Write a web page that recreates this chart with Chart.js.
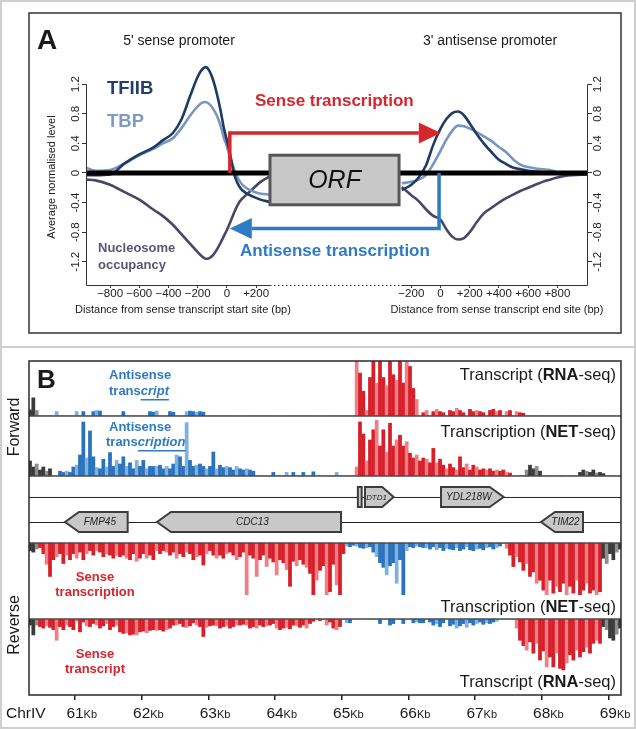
<!DOCTYPE html>
<html>
<head>
<meta charset="utf-8">
<script src="https://cdn.jsdelivr.net/npm/chart.js@4.4.1/dist/chart.umd.min.js"></script>
<style>
  html, body { margin: 0; padding: 0; background: #fff; }
  #page { position: relative; width: 636px; height: 729px; overflow: hidden; background: #fff; }
  #chartA { position: absolute; left: 0; top: 0; }
  #chartB { position: absolute; left: 0; top: 347px; }
  .frame { position: absolute; border: 2px solid #cfcfcf; box-sizing: border-box; pointer-events: none; }
</style>
</head>
<body>
<div id="page">
  <canvas id="chartA" width="636" height="347"></canvas>
  <canvas id="chartB" width="636" height="382"></canvas>
  <div class="frame" style="left:0;top:0;width:636px;height:348px"></div>
  <div class="frame" style="left:0;top:346px;width:636px;height:383px"></div>
</div>
<script>
const FF = '"Liberation Sans", Arial, Helvetica, sans-serif';

// ---------- Panel A : average profiles around the 5' and 3' ends ----------
// the 3' window is drawn to the right of the ORF gap, shifted by OFF bp
const OFF = 1463;

const startBp = [-965, -900, -800, -700, -600, -500, -440, -370, -310, -250, -200, -170, -145,
  -120, -95, -70, -45, -20, 0, 20, 55, 90, 130, 180, 230, 290];
const tfiibStart = [-0.03, -0.03, -0.02, 0.13, 0.25, 0.35, 0.44, 0.54, 0.73, 1.05, 1.3, 1.4, 1.43,
  1.38, 1.26, 1.08, 0.86, 0.6, 0.44, 0.27, -0.05, -0.2, -0.27, -0.32, -0.36, -0.39];
const tbpStart = [0.07, 0.03, 0.04, 0.13, 0.24, 0.33, 0.4, 0.47, 0.61, 0.78, 0.9, 0.95, 0.96,
  0.93, 0.87, 0.78, 0.65, 0.47, 0.36, 0.22, 0.02, -0.12, -0.2, -0.25, -0.28, -0.29];
const nucStart = [-0.09, -0.1, -0.16, -0.26, -0.36, -0.5, -0.58, -0.7, -0.83, -0.96, -1.07, -1.13, -1.16,
  -1.15, -1.11, -1.04, -0.95, -0.85, -0.77, -0.68, -0.51, -0.38, -0.3, -0.21, -0.12, -0.05];

const endBp = [-265, -200, -150, -100, -50, 0, 40, 80, 120, 160, 200, 250, 300, 350, 400, 450, 500,
  550, 600, 650, 700, 750, 800, 850, 900, 1000];
const tfiibEnd = [-0.23, -0.16, -0.06, 0.1, 0.38, 0.6, 0.73, 0.81, 0.83, 0.78, 0.67, 0.52, 0.39, 0.28,
  0.18, 0.12, 0.07, 0.05, 0.03, 0.02, 0.01, 0, -0.01, -0.02, -0.02, -0.02];
const tbpEnd = [-0.14, -0.12, -0.09, -0.03, 0.12, 0.3, 0.45, 0.57, 0.64, 0.63, 0.6, 0.55, 0.49, 0.43,
  0.35, 0.28, 0.18, 0.11, 0.08, 0.06, 0.05, 0.04, 0.01, -0.01, -0.02, -0.02];
const nucEnd = [-0.19, -0.3, -0.38, -0.49, -0.58, -0.63, -0.76, -0.86, -0.9, -0.88, -0.8, -0.66, -0.54,
  -0.47, -0.4, -0.34, -0.29, -0.24, -0.2, -0.16, -0.12, -0.09, -0.06, -0.04, -0.03, -0.02];

const levelTicks = [-1.2, -0.8, -0.4, 0, 0.4, 0.8, 1.2];
const startTicks = [-800, -600, -400, -200, 0, 200];
const endTicks = [-200, 0, 200, 400, 600, 800];

// annotation geometry in data units
const startWindowEnd = 295;          // last bp of the 5' window
const endWindowStart = -268;         // first bp of the 3' window
const orfBox = { from: 295, to: OFF - 284, top: 0.24, bottom: -0.43 };
const senseArrow = { from: 20, to: OFF + 2, level: 0.54 };
const antisenseArrow = { from: OFF - 10, to: 20, level: -0.75 };

// ---------- Panel B : ChrIV 60.3 - 69.2 kb, 50 bp bins ----------
const binStart = 60.3, binStep = 0.05;
const fwdRna = [
  11,33,10,0,0,0,0,0,8,0,
  0,0,0,0,8,0,8,0,0,8,
  10,9,0,0,0,0,0,0,8,0,
  0,0,0,0,0,0,8,7,9,0,
  0,0,8,7,0,0,0,8,9,8,
  7,8,7,0,0,0,0,0,0,0,
  0,0,0,0,0,0,0,0,0,0,
  0,0,0,0,0,0,0,0,0,0,
  0,0,0,0,0,0,0,0,0,0,
  0,0,0,0,0,0,0,0,100,78,
  45,10,70,100,60,100,70,55,100,75,
  65,100,60,100,90,50,30,0,6,10,
  0,8,12,8,6,0,10,8,14,10,
  6,0,12,8,10,8,6,0,10,12,
  8,10,0,8,10,0,8,6,5,0,
  0,0,0,0,0,0,0,0,0,0,
  0,0,0,0,0,0,0,0,0,0,
  0,0,0,0,0,0,0,0];
const fwdNet = [
  25,15,20,10,15,8,12,0,0,8,
  6,8,6,15,18,35,90,30,75,32,
  14,12,28,15,39,16,26,20,32,16,
  22,12,26,16,26,12,16,16,16,18,
  12,16,12,20,35,32,16,89,26,16,
  18,20,16,12,16,40,12,18,14,16,
  14,10,16,12,10,12,10,8,0,0,
  0,0,0,6,0,0,0,6,0,6,
  0,0,6,0,0,7,0,0,0,0,
  0,0,6,0,0,0,0,0,15,90,
  70,25,60,77,93,50,77,40,88,50,
  60,68,50,57,38,30,35,25,30,28,
  22,46,22,28,18,12,20,14,10,32,
  14,20,10,18,15,10,12,10,12,8,
  10,8,10,6,5,0,0,0,0,10,
  18,12,16,8,0,0,0,0,0,0,
  0,0,0,0,0,6,10,8,6,10,
  5,6,4,0,0,0,0,0];
const revNet = [
  10,12,8,6,14,28,44,22,18,14,
  27,16,22,14,20,12,22,14,10,16,
  10,12,18,14,16,20,16,18,16,20,
  22,14,24,20,14,20,16,22,10,14,
  10,12,16,12,20,14,18,12,14,22,
  18,16,29,14,10,16,20,16,20,14,
  12,16,22,18,12,68,16,20,44,22,
  16,31,20,25,42,22,26,35,57,24,
  30,22,28,32,40,68,49,36,30,68,
  64,28,55,68,14,4,5,3,4,6,
  7,6,5,12,18,26,32,42,30,26,
  53,22,68,10,5,6,4,5,6,6,
  8,5,9,6,10,7,8,9,6,10,
  8,5,9,10,8,7,9,6,5,8,
  6,4,0,7,16,31,18,25,36,27,
  44,38,53,49,62,68,49,66,57,64,
  53,68,57,66,49,68,62,53,66,62,
  68,64,20,27,14,22,12,8];
const revRna = [
  8,21,8,10,12,9,11,14,28,10,
  14,8,10,14,3,17,4,9,10,6,
  8,12,9,6,14,10,8,17,19,18,
  21,20,21,17,16,18,15,14,15,14,
  16,14,12,8,8,6,10,11,9,5,
  8,10,23,11,9,8,9,12,10,9,
  12,10,8,8,7,8,12,10,12,8,
  10,9,8,6,12,14,12,11,13,8,
  9,11,8,12,6,3,0,2,0,8,
  4,12,14,10,0,5,5,0,0,0,
  0,0,0,0,0,6,0,0,8,6,
  0,0,6,0,0,5,4,5,5,0,
  4,8,6,10,5,0,9,7,12,9,
  6,11,5,8,6,4,7,5,6,4,
  3,0,0,0,0,0,12,28,35,41,
  30,45,32,54,42,63,50,63,45,65,
  67,58,47,54,41,50,43,37,45,32,
  28,32,10,14,25,28,20,12];

// which class of signal each stretch of a strand belongs to (upper bound in kb)
const forwardRegions = [[60.65, 'gray'], [65.15, 'blue'], [67.75, 'red'], [99, 'gray']];
const reverseRegions = [[60.45, 'gray'], [65.05, 'red'], [67.45, 'blue'], [68.9, 'red'], [99, 'gray']];

const kbTicks = [61, 62, 63, 64, 65, 66, 67, 68, 69];

const geneNames = ['', 'DTD1', 'YDL218W', 'FMP45', 'CDC13', 'TIM22'];
const geneStart = [65.243, 65.35, 66.49, 60.85, 62.23, 67.99];
const geneEnd = [65.30, 65.78, 67.43, 61.79, 64.99, 68.62];
const geneStrand = ['+', '+', '+', '-', '-', '-'];

// ---------- styles ----------
const C = {
  tfiib: '#1e3b64', tbp: '#7995c0', nuc: '#4a4668',
  red: '#d7252e', blue: '#2e7bc4', ink: '#1a1a1a'
};
const barShades = {
  red: ['#d71f29', '#d71f29', '#ef7f87'],
  blue: ['#2a72bc', '#2a72bc', '#82b0df'],
  gray: ['#3a3a3a', '#3a3a3a', '#8d8d8d']
};

function rich(ctx, parts, x, y, align, baseline) {
  ctx.save();
  ctx.textBaseline = baseline || 'middle';
  ctx.textAlign = 'left';
  let total = 0;
  for (const p of parts) { ctx.font = p.font; p.w = ctx.measureText(p.text).width; total += p.w; }
  let cx = align === 'right' ? x - total : align === 'center' ? x - total / 2 : x;
  for (const p of parts) {
    ctx.font = p.font;
    ctx.fillStyle = p.color;
    ctx.fillText(p.text, cx, y);
    if (p.underline) ctx.fillRect(cx, y + p.underline, p.w, 1.5);
    cx += p.w;
  }
  ctx.restore();
}

function fmtBp(v) {
  if (v === 0) return '0';
  return v > 0 ? '+' + v : '\u2212' + Math.abs(v);
}

function pair(xs, ys, shift) {
  return xs.map((v, i) => ({ x: v + shift, y: ys[i] }));
}

function arrowTo(ctx, xs, ys, a, color) {
  const x0 = xs.getPixelForValue(a.from), x1 = xs.getPixelForValue(a.to);
  const y0 = ys.getPixelForValue(0), yl = ys.getPixelForValue(a.level);
  const dir = x1 > x0 ? 1 : -1, head = 22, half = 10.5;
  ctx.save();
  ctx.strokeStyle = color; ctx.fillStyle = color; ctx.lineWidth = 3.5;
  ctx.beginPath();
  ctx.moveTo(x0, y0); ctx.lineTo(x0, yl); ctx.lineTo(x1 - dir * head, yl);
  ctx.stroke();
  ctx.beginPath();
  ctx.moveTo(x1, yl); ctx.lineTo(x1 - dir * head, yl - half); ctx.lineTo(x1 - dir * head, yl + half);
  ctx.closePath(); ctx.fill();
  ctx.restore();
}

const panelADecor = {
  id: 'panelADecor',
  afterDatasetsDraw(chart) {
    const { ctx, chartArea: ca, scales: { x, y } } = chart;
    const y0 = y.getPixelForValue(0);
    ctx.save();
    ctx.strokeStyle = '#000'; ctx.lineWidth = 5;
    ctx.beginPath(); ctx.moveTo(ca.left, y0); ctx.lineTo(ca.right, y0); ctx.stroke();

    arrowTo(ctx, x, y, senseArrow, C.red);
    arrowTo(ctx, x, y, antisenseArrow, C.blue);

    const bx0 = x.getPixelForValue(orfBox.from), bx1 = x.getPixelForValue(orfBox.to);
    const by0 = y.getPixelForValue(orfBox.top), by1 = y.getPixelForValue(orfBox.bottom);
    ctx.fillStyle = '#c8c8c8'; ctx.strokeStyle = '#575757'; ctx.lineWidth = 3;
    ctx.fillRect(bx0, by0, bx1 - bx0, by1 - by0);
    ctx.strokeRect(bx0, by0, bx1 - bx0, by1 - by0);
    ctx.fillStyle = '#111'; ctx.font = 'italic 25px ' + FF;
    ctx.textAlign = 'center'; ctx.textBaseline = 'middle';
    ctx.fillText('ORF', (bx0 + bx1) / 2, (by0 + by1) / 2 + 1);
    ctx.restore();
  },
  afterDraw(chart) {
    const { ctx, chartArea: ca, scales: { x, y } } = chart;
    ctx.save();
    // R style axis lines
    ctx.strokeStyle = '#333'; ctx.lineWidth = 1;
    const yTop = y.getPixelForValue(1.2);
    ctx.beginPath();
    ctx.moveTo(ca.left + 0.5, yTop); ctx.lineTo(ca.left + 0.5, ca.bottom + 0.5);
    ctx.lineTo(x.getPixelForValue(startWindowEnd), ca.bottom + 0.5);
    ctx.moveTo(x.getPixelForValue(OFF + endWindowStart), ca.bottom + 0.5);
    ctx.lineTo(ca.right - 0.5, ca.bottom + 0.5); ctx.lineTo(ca.right - 0.5, yTop);
    ctx.stroke();
    ctx.setLineDash([1.5, 2.5]);
    ctx.beginPath();
    ctx.moveTo(x.getPixelForValue(startWindowEnd), ca.bottom + 0.5);
    ctx.lineTo(x.getPixelForValue(OFF + endWindowStart), ca.bottom + 0.5);
    ctx.stroke();
    ctx.setLineDash([]);

    // panel frame
    ctx.strokeStyle = '#333'; ctx.lineWidth = 1.5;
    ctx.strokeRect(29, 13, 592, 320);

    // titles
    ctx.fillStyle = C.ink; ctx.textBaseline = 'middle';
    ctx.font = 'bold 28px ' + FF; ctx.textAlign = 'left';
    ctx.fillText('A', 37, 41);
    ctx.font = '14px ' + FF; ctx.textAlign = 'center';
    ctx.fillText("5' sense promoter", 179, 41);
    ctx.fillText("3' antisense promoter", 490, 41);
    ctx.font = '11px ' + FF;
    ctx.fillText('Distance from sense transcript start site (bp)', 183, 310);
    ctx.fillText('Distance from sense transcript end site (bp)', 497, 310);
    ctx.save();
    ctx.translate(52, 177); ctx.rotate(-Math.PI / 2);
    ctx.fillText('Average normalised level', 0, 0);
    ctx.restore();

    // series labels
    ctx.textAlign = 'left';
    ctx.font = 'bold 18.5px ' + FF;
    ctx.fillStyle = '#243f68'; ctx.fillText('TFIIB', 107, 89);
    ctx.fillStyle = '#7f9bc4'; ctx.fillText('TBP', 107, 122);
    ctx.font = 'bold 13px ' + FF; ctx.fillStyle = '#5a5675';
    ctx.fillText('Nucleosome', 98, 248);
    ctx.fillText('occupancy', 98, 265);
    ctx.font = 'bold 17px ' + FF;
    ctx.fillStyle = C.red; ctx.fillText('Sense transcription', 255, 101);
    ctx.fillStyle = C.blue; ctx.fillText('Antisense transcription', 240, 251);
    ctx.restore();
  }
};

new Chart(document.getElementById('chartA'), {
  type: 'line',
  data: {
    datasets: [
      { label: 'TFIIB', data: pair(startBp, tfiibStart, 0), borderColor: C.tfiib },
      { label: 'TFIIB', data: pair(endBp, tfiibEnd, OFF), borderColor: C.tfiib },
      { label: 'TBP', data: pair(startBp, tbpStart, 0), borderColor: C.tbp },
      { label: 'TBP', data: pair(endBp, tbpEnd, OFF), borderColor: C.tbp },
      { label: 'Nucleosome occupancy', data: pair(startBp, nucStart, 0), borderColor: C.nuc },
      { label: 'Nucleosome occupancy', data: pair(endBp, nucEnd, OFF), borderColor: C.nuc }
    ]
  },
  options: {
    responsive: false,
    animation: false,
    events: [],
    layout: { padding: { left: 46, right: 8, top: 50, bottom: 0 } },
    elements: {
      point: { radius: 0 },
      line: { borderWidth: 2.6, cubicInterpolationMode: 'monotone', fill: false }
    },
    plugins: { legend: { display: false }, tooltip: { enabled: false } },
    scales: {
      x: {
        type: 'linear', min: -965, max: 2473,
        afterBuildTicks: s => { s.ticks = startTicks.concat(endTicks.map(v => v + OFF)).map(v => ({ value: v })); },
        afterFit: s => { s.height = 62; },
        ticks: {
          autoSkip: false, maxRotation: 0, minRotation: 0, padding: -1, color: '#222',
          font: { family: FF, size: 11.5 },
          callback: v => fmtBp(v > 700 ? v - OFF : v)
        },
        grid: { drawOnChartArea: false, tickLength: 3, color: '#333' },
        border: { display: false }
      },
      y: {
        position: 'left', min: -1.514, max: 1.662,
        afterBuildTicks: s => { s.ticks = levelTicks.map(v => ({ value: v })); },
        afterFit: s => { s.width = 40; },
        ticks: {
          autoSkip: false, minRotation: 90, maxRotation: 90, crossAlign: 'center', padding: -4,
          color: '#222', font: { family: FF, size: 11.5 },
          callback: v => v === 0 ? '0' : v.toFixed(1)
        },
        grid: { drawOnChartArea: false, tickLength: 4, color: '#333' },
        border: { display: false }
      },
      y2: {
        type: 'linear', position: 'right', min: -1.514, max: 1.662,
        afterBuildTicks: s => { s.ticks = levelTicks.map(v => ({ value: v })); },
        afterFit: s => { s.width = 40; },
        ticks: {
          autoSkip: false, minRotation: 90, maxRotation: 90, crossAlign: 'center', padding: -4,
          color: '#222', font: { family: FF, size: 11.5 },
          callback: v => v === 0 ? '0' : v.toFixed(1)
        },
        grid: { drawOnChartArea: false, tickLength: 4, color: '#333' },
        border: { display: false }
      }
    }
  },
  plugins: [panelADecor]
});

// ---------- Panel B chart ----------
const binCentres = fwdRna.map((_, i) => +(binStart + binStep * (i + 0.5)).toFixed(3));

function regionOf(regions, kb) {
  for (const [upper, cls] of regions) if (kb < upper) return cls;
  return 'gray';
}

function track(values, axisId, regions) {
  return {
    type: 'bar',
    yAxisID: axisId,
    data: values.map((v, i) => ({ x: binCentres[i], y: v })),
    backgroundColor: values.map((v, i) => barShades[regionOf(regions, binCentres[i])][i % 3]),
    borderWidth: 0,
    grouped: false,
    barThickness: 3.1
  };
}

function drawGene(ctx, x0, x1, yc, strand, name) {
  const h = 10, w = x1 - x0;
  const point = Math.min(14, w * 0.4);
  ctx.beginPath();
  if (w < 8) {
    ctx.rect(x0, yc - h, w, 2 * h);
  } else if (strand === '+') {
    ctx.moveTo(x0, yc - h); ctx.lineTo(x1 - point, yc - h); ctx.lineTo(x1, yc);
    ctx.lineTo(x1 - point, yc + h); ctx.lineTo(x0, yc + h); ctx.closePath();
  } else {
    ctx.moveTo(x1, yc - h); ctx.lineTo(x0 + point, yc - h); ctx.lineTo(x0, yc);
    ctx.lineTo(x0 + point, yc + h); ctx.lineTo(x1, yc + h); ctx.closePath();
  }
  ctx.fillStyle = '#c8c8c8'; ctx.fill();
  ctx.strokeStyle = '#3d3d3d'; ctx.lineWidth = 2; ctx.stroke();
  if (!name) return;
  let size = 10;
  ctx.font = 'italic ' + size + 'px ' + FF;
  const tw = ctx.measureText(name).width;
  if (tw > w - 8) { size = size * (w - 8) / tw; ctx.font = 'italic ' + size + 'px ' + FF; }
  ctx.fillStyle = '#222'; ctx.textAlign = 'center'; ctx.textBaseline = 'middle';
  const cx = (x0 + x1) / 2 + (strand === '+' ? -point / 4 : point / 4);
  ctx.fillText(name, cx, yc + 0.5);
}

const panelBDecor = {
  id: 'panelBDecor',
  afterDatasetsDraw(chart) {
    const { ctx, chartArea: ca, scales: s } = chart;
    ctx.save();
    // separators between tracks
    ctx.strokeStyle = '#4a4a4a'; ctx.lineWidth = 1.6;
    for (const yy of [s.t1.bottom, s.t2.bottom, s.genes.bottom, s.t3.bottom]) {
      ctx.beginPath(); ctx.moveTo(ca.left, yy); ctx.lineTo(ca.right, yy); ctx.stroke();
    }
    // gene lanes
    const laneF = s.genes.getPixelForValue(0.687), laneR = s.genes.getPixelForValue(0.313);
    ctx.strokeStyle = '#222'; ctx.lineWidth = 1;
    for (const yy of [laneF, laneR]) {
      ctx.beginPath(); ctx.moveTo(ca.left, yy + 0.5); ctx.lineTo(ca.right, yy + 0.5); ctx.stroke();
    }
    geneNames.forEach((name, i) => {
      drawGene(ctx, s.x.getPixelForValue(geneStart[i]), s.x.getPixelForValue(geneEnd[i]),
        geneStrand[i] === '+' ? laneF : laneR, geneStrand[i], name);
    });
    ctx.restore();
  },
  afterDraw(chart) {
    const { ctx, chartArea: ca, scales: s } = chart;
    ctx.save();
    ctx.strokeStyle = '#2a2a2a'; ctx.lineWidth = 1.5;
    ctx.strokeRect(ca.left, ca.top, ca.right - ca.left, ca.bottom - ca.top);

    const reg = '16.5px ' + FF, bold = 'bold 16.5px ' + FF;
    rich(ctx, [{ text: 'Transcript (', font: reg, color: C.ink }, { text: 'RNA', font: bold, color: C.ink },
      { text: '-seq)', font: reg, color: C.ink }], ca.right - 5, s.t1.top + 14, 'right');
    rich(ctx, [{ text: 'Transcription (', font: reg, color: C.ink }, { text: 'NET', font: bold, color: C.ink },
      { text: '-seq)', font: reg, color: C.ink }], ca.right - 5, s.t2.top + 16, 'right');
    rich(ctx, [{ text: 'Transcription (', font: reg, color: C.ink }, { text: 'NET', font: bold, color: C.ink },
      { text: '-seq)', font: reg, color: C.ink }], ca.right - 5, s.t3.bottom - 12, 'right');
    rich(ctx, [{ text: 'Transcript (', font: reg, color: C.ink }, { text: 'RNA', font: bold, color: C.ink },
      { text: '-seq)', font: reg, color: C.ink }], ca.right - 5, s.t4.bottom - 13, 'right');

    const b13 = 'bold 13px ' + FF, bi13 = 'italic bold 13px ' + FF;
    rich(ctx, [{ text: 'Antisense', font: b13, color: C.blue }], 109, 28, 'left');
    rich(ctx, [{ text: 'trans', font: b13, color: C.blue },
      { text: 'cript', font: bi13, color: C.blue, underline: 8 }], 109, 44, 'left');
    rich(ctx, [{ text: 'Antisense', font: b13, color: C.blue }], 109, 80, 'left');
    rich(ctx, [{ text: 'trans', font: b13, color: C.blue },
      { text: 'cription', font: bi13, color: C.blue, underline: 8 }], 106, 95, 'left');

    rich(ctx, [{ text: 'Sense', font: b13, color: C.red }], 95, 230, 'center');
    rich(ctx, [{ text: 'transcription', font: b13, color: C.red }], 95, 245, 'center');
    rich(ctx, [{ text: 'Sense', font: b13, color: C.red }], 95, 307, 'center');
    rich(ctx, [{ text: 'transcript', font: b13, color: C.red }], 95, 322, 'center');

    ctx.fillStyle = C.ink; ctx.font = 'bold 26px ' + FF; ctx.textAlign = 'left'; ctx.textBaseline = 'middle';
    ctx.fillText('B', 37, 34);
    ctx.font = '16px ' + FF; ctx.textAlign = 'center';
    for (const [label, yy] of [['Forward', 80], ['Reverse', 278]]) {
      ctx.save(); ctx.translate(15, yy); ctx.rotate(-Math.PI / 2); ctx.fillText(label, 0, 0); ctx.restore();
    }

    // kb tick labels
    const base = ca.bottom + 23;
    ctx.textBaseline = 'alphabetic'; ctx.textAlign = 'left';
    ctx.font = '15.5px ' + FF; ctx.fillStyle = C.ink;
    ctx.fillText('ChrIV', 6, base);
    for (const kb of kbTicks) {
      const px = s.x.getPixelForValue(kb);
      ctx.font = '15.5px ' + FF;
      const wNum = ctx.measureText(String(kb)).width;
      ctx.fillText(String(kb), px - wNum / 2, base);
      ctx.font = '11px ' + FF;
      ctx.fillText('Kb', px + wNum / 2, base);
    }
    ctx.restore();
  }
};

const trackAxis = (weight, stackWeight, extra) => Object.assign({
  type: 'linear', axis: 'y', position: 'left', display: false,
  min: 0, max: 100, stack: 'tracks', stackWeight: stackWeight, weight: weight
}, extra || {});

new Chart(document.getElementById('chartB'), {
  type: 'bar',
  data: {
    datasets: [
      track(fwdRna, 't1', forwardRegions),
      track(fwdNet, 't2', forwardRegions),
      track(revNet, 't3', reverseRegions),
      track(revRna, 't4', reverseRegions)
    ]
  },
  options: {
    responsive: false,
    animation: false,
    events: [],
    layout: { padding: { left: 29, right: 15, top: 14, bottom: 0 } },
    plugins: { legend: { display: false }, tooltip: { enabled: false } },
    scales: {
      x: {
        type: 'linear', axis: 'x', position: 'bottom', min: 60.31, max: 69.19, offset: false,
        afterBuildTicks: s => { s.ticks = kbTicks.map(v => ({ value: v })); },
        afterFit: s => { s.height = 34; },
        ticks: { display: false },
        grid: { drawOnChartArea: false, offset: false, tickLength: 5, color: '#222', lineWidth: 1.5 },
        border: { display: false }
      },
      t1: trackAxis(5, 55),
      t2: trackAxis(4, 60),
      genes: trackAxis(3, 67, { max: 1 }),
      t3: trackAxis(2, 76, { reverse: true }),
      t4: trackAxis(1, 76, { reverse: true })
    }
  },
  plugins: [panelBDecor]
});
</script>
</body>
</html>
